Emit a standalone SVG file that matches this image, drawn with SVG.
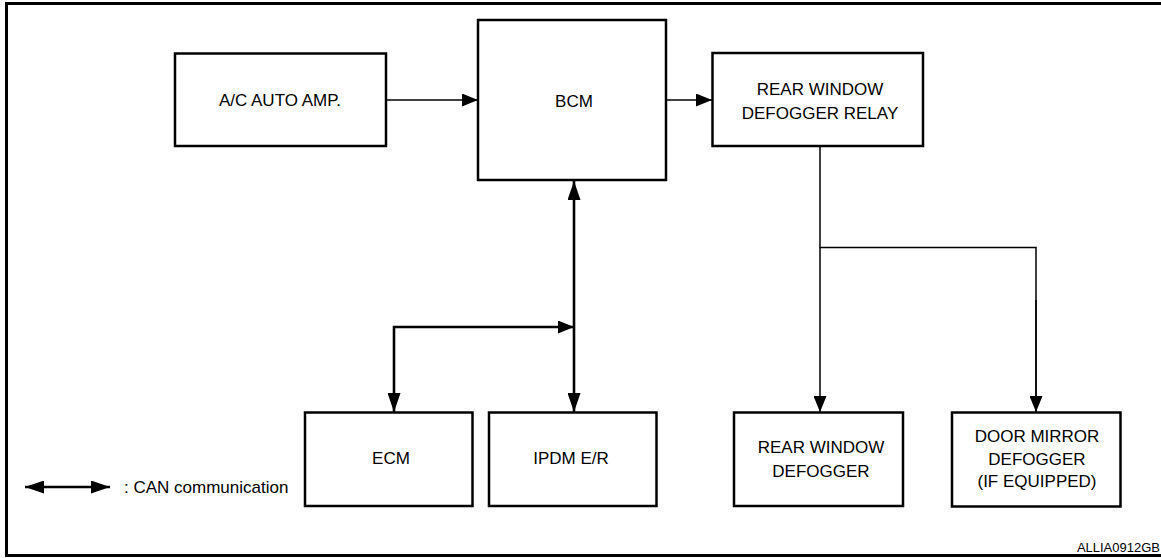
<svg xmlns="http://www.w3.org/2000/svg" width="1161" height="558" viewBox="0 0 1161 558">
<style>
.box{fill:#fff;stroke:#000;stroke-width:2.5}
.t{font-family:"Liberation Sans",Arial,sans-serif;font-size:17px;fill:#000;text-anchor:middle}
.thin{fill:none;stroke:#000;stroke-width:1.5}
.can{fill:none;stroke:#000;stroke-width:2.6}
</style>
<defs>
<marker id="ah" markerUnits="userSpaceOnUse" markerWidth="16" markerHeight="13" refX="16" refY="6.5" orient="auto-start-reverse" viewBox="0 0 16 13"><path d="M0,0 L16,6.5 L0,13 z" fill="#000"/></marker>
<marker id="ahc" markerUnits="userSpaceOnUse" markerWidth="19" markerHeight="13" refX="19" refY="6.5" orient="auto-start-reverse" viewBox="0 0 19 13"><path d="M0,0 L19,6.5 L0,13 z" fill="#000"/></marker>
</defs>
<path d="M1161,3.5 H6.5 V555.5 H1161" fill="none" stroke="#000" stroke-width="3"/>
<g id="connectors">
<line class="thin" x1="386" y1="100" x2="478" y2="100" marker-end="url(#ah)"/>
<line class="thin" x1="666" y1="100" x2="712" y2="100" stroke-width="1.7" marker-end="url(#ah)"/>
<polyline class="thin" points="820,146 820,247.5 1036,247.5 1036,412"/>
<line class="thin" x1="820" y1="247" x2="820" y2="412" marker-end="url(#ah)"/>
<line class="thin" x1="1036" y1="300" x2="1036" y2="412" marker-end="url(#ah)"/>
<line class="can" x1="574" y1="181" x2="574" y2="412" marker-start="url(#ahc)" marker-end="url(#ahc)"/>
<polyline class="can" points="574,327 394,327 394,412" marker-start="url(#ah)" marker-end="url(#ahc)"/>
<line class="can" x1="25" y1="487" x2="110" y2="487" marker-start="url(#ahc)" marker-end="url(#ahc)"/>
</g>
<g id="ac-auto-amp"><rect class="box" x="175" y="53.5" width="211" height="92.5"/><text class="t" x="280" y="105.5">A/C AUTO AMP.</text></g>
<g id="bcm"><rect class="box" x="478" y="20" width="188" height="160"/><text class="t" x="574" y="107">BCM</text></g>
<g id="relay"><rect class="box" x="712.5" y="53" width="210.5" height="93"/><text class="t" x="820" y="95">REAR WINDOW</text><text class="t" x="820" y="118.5">DEFOGGER RELAY</text></g>
<g id="ecm"><rect class="box" x="305" y="412.5" width="167.5" height="93.5"/><text class="t" x="391" y="464">ECM</text></g>
<g id="ipdm"><rect class="box" x="489" y="412.5" width="167.5" height="93.5"/><text class="t" x="571" y="464">IPDM E/R</text></g>
<g id="rear-defogger"><rect class="box" x="734" y="412.5" width="169" height="93.5"/><text class="t" x="821" y="452.5">REAR WINDOW</text><text class="t" x="821" y="476.5">DEFOGGER</text></g>
<g id="door-mirror"><rect class="box" x="952" y="412.5" width="168.5" height="94"/><text class="t" x="1037" y="441.5">DOOR MIRROR</text><text class="t" x="1037" y="464.5">DEFOGGER</text><text class="t" x="1037" y="487">(IF EQUIPPED)</text></g>
<g id="legend"><text class="t" x="124" y="493" style="text-anchor:start">: CAN communication</text></g>
<text x="1160" y="551.5" style="font-family:'Liberation Sans',Arial,sans-serif;font-size:13px;text-anchor:end">ALLIA0912GB</text>
</svg>
